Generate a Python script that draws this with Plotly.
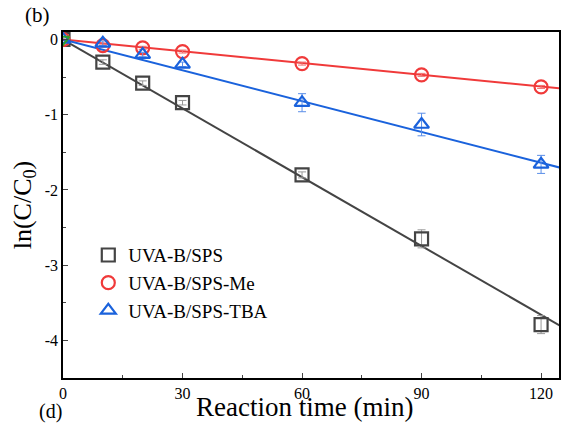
import plotly.graph_objects as go

time = [0, 10, 20, 30, 60, 90, 120]
sps = [0, -0.30, -0.58, -0.84, -1.80, -2.65, -3.79]
sps_err = [0, 0.03, 0.03, 0.03, 0.04, 0.12, 0.12]
me = [0, -0.08, -0.11, -0.16, -0.32, -0.47, -0.63]
me_err = [0, 0.02, 0.02, 0.02, 0.02, 0.02, 0.02]
tba = [0, -0.05, -0.20, -0.33, -0.84, -1.13, -1.66]
tba_err = [0, 0.03, 0.03, 0.03, 0.12, 0.15, 0.12]

fit_x = [0, 125]
k_sps = 0.0305
k_me = 0.0052
k_tba = 0.01365

names = ["UVA-B/SPS", "UVA-B/SPS-Me", "UVA-B/SPS-TBA"]
colors = ["#444444", "#f03a3a", "#1a62dc"]
err_colors = ["#999999", "#f07070", "#5a8ee8"]
symbols = ["square-open", "circle-open", "triangle-up-open"]

yticks = [0, -1, -2, -3, -4]
ytext = ["0", "-1", "-2", "-3", "-4"]
xticks = [0, 30, 60, 90, 120]

FONT = "Liberation Serif, Times New Roman, serif"

fig = go.Figure()

for ys, k, c in zip([sps, me, tba], [k_sps, k_me, k_tba], colors):
    fig.add_trace(go.Scatter(x=fit_x, y=[-k * x for x in fit_x], mode="lines",
                             line=dict(color=c, width=2), showlegend=False, hoverinfo="skip"))

for ys, err, name, c, ec, s in zip([sps, me, tba], [sps_err, me_err, tba_err], names, colors, err_colors, symbols):
    fig.add_trace(go.Scatter(x=time, y=ys, mode="markers", name=name,
                             marker=dict(symbol=s, size=13, color=c, line=dict(color=c, width=2.2)),
                             error_y=dict(type="data", array=err, color=ec, thickness=1, width=4)))

fig.add_trace(go.Scatter(x=[0], y=[0], mode="markers", showlegend=False,
                         marker=dict(symbol="triangle-down-open", size=11, color="#2ca02c",
                                     line=dict(color="#2ca02c", width=2))))

fig.update_layout(
    width=563, height=423,
    margin=dict(l=63, r=2, t=32, b=45),
    plot_bgcolor="white", paper_bgcolor="white",
    font=dict(family=FONT, size=16, color="black"),
    showlegend=True,
    legend=dict(x=0.051, y=0.41, xanchor="left", yanchor="top", bgcolor="rgba(0,0,0,0)",
                font=dict(family=FONT, size=19), tracegroupgap=0, itemwidth=30),
    xaxis=dict(range=[0, 124.5], tickvals=xticks, ticks="inside", ticklen=5, tickwidth=1,
               minor=dict(ticks="inside", ticklen=3, dtick=15, tick0=0),
               showline=True, linecolor="black", linewidth=1.5, mirror=True,
               showgrid=False, zeroline=False, tickfont=dict(size=16)),
    yaxis=dict(range=[-4.5, 0.1], tickvals=yticks, ticktext=ytext, ticks="inside", ticklen=5, tickwidth=1,
               minor=dict(ticks="inside", ticklen=3, dtick=0.5, tick0=0),
               showline=True, linecolor="black", linewidth=1.5, mirror=True,
               showgrid=False, zeroline=False, tickfont=dict(size=16),
               title=dict(text="ln(C/C<sub>0</sub>)", font=dict(size=26), standoff=6)),
)

fig.add_annotation(text="Reaction time (min)", x=0.487, y=0, xref="paper", yref="paper",
                   xanchor="center", yanchor="middle", yshift=-29, showarrow=False,
                   font=dict(family=FONT, size=27))
fig.add_annotation(text="(b)", x=0, y=1, xref="paper", yref="paper", xanchor="left", yanchor="top",
                   xshift=-40, yshift=31, showarrow=False, font=dict(family=FONT, size=21))
fig.add_annotation(text="(d)", x=0, y=0, xref="paper", yref="paper", xanchor="left", yanchor="top",
                   xshift=-26, yshift=-20, showarrow=False, font=dict(family=FONT, size=20))

fig.write_html("out.html")
